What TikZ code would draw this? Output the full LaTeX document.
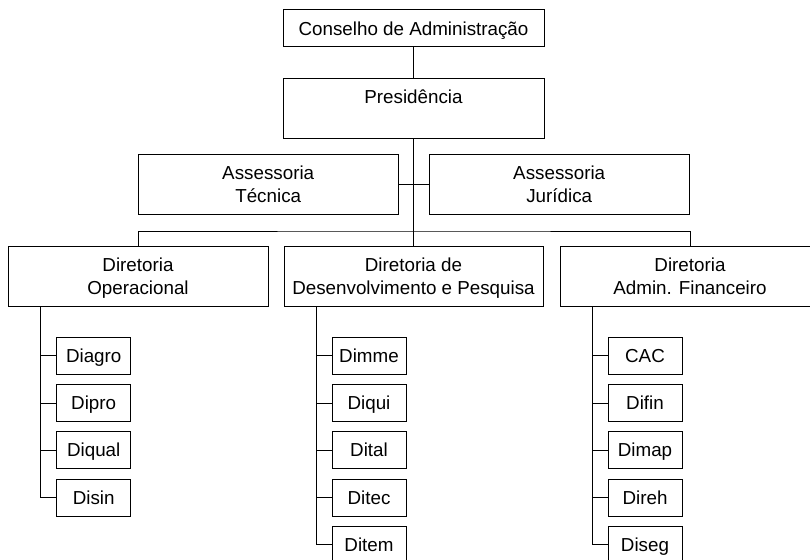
\documentclass[tikz,border=0pt]{standalone}
\usepackage{fontspec}
\setmainfont{Liberation Sans}
\newcommand\lnstrut{\rule[-4.5pt]{0pt}{22.5pt}}
\begin{document}
\begin{tikzpicture}[x=1pt,y=-1pt,
  box/.style={draw=black, line width=0.9pt, rectangle, inner sep=0pt, align=center,
              font=\fontsize{18.8}{22.5}\selectfont, text=black},
  bigbox/.style={box, minimum width=260pt, minimum height=60pt},
  small/.style={box, minimum width=74pt, minimum height=37pt},
  link/.style={draw=black, line width=0.9pt}]
\useasboundingbox (0,0) rectangle (810,559);
\clip (0,0) rectangle (810,559);
\fill[white] (0,0) rectangle (810,559);

% top levels
\node[box, minimum width=261pt, minimum height=36.5pt] (cons) at (413.5,27.75) {\lnstrut\raisebox{-1.5pt}{Conselho de Administração}};
\node[box, minimum width=261pt, minimum height=60pt] (pres) at (413.5,108) {\lnstrut Presidência\\\lnstrut};
\node[bigbox, minimum width=259.5pt] (tec) at (268.2,184) {\lnstrut Assessoria\\\lnstrut Técnica};
\node[bigbox, minimum width=259.5pt] (jur) at (559.2,184) {\lnstrut Assessoria\\\lnstrut Jurídica};

% directorates
\node[bigbox] (dop) at (138,276) {\lnstrut Diretoria\\\lnstrut Operacional};
\node[bigbox, minimum width=259pt] (ddp) at (413.5,276) {\lnstrut Diretoria de\\\lnstrut Desenvolvimento e Pesquisa};
\node[bigbox] (daf) at (690,276) {\lnstrut Diretoria\\\lnstrut Admin. Financeiro};

\coordinate (hub) at (413.5,231);

% Operacional children
\node[small] (diagro) at (93.7,355.8) {\lnstrut Diagro};
\node[small] (dipro)  at (93.7,403) {\lnstrut Dipro};
\node[small] (diqual) at (93.7,450.2) {\lnstrut Diqual};
\node[small] (disin)  at (93.7,497.5) {\lnstrut Disin};

% D&P children
\node[small] (dimme) at (369,355.8) {\lnstrut Dimme};
\node[small] (diqui) at (369,403) {\lnstrut Diqui};
\node[small] (dital) at (369,450.2) {\lnstrut Dital};
\node[small] (ditec) at (369,497.5) {\lnstrut Ditec};
\node[small] (ditem) at (369,544.7) {\lnstrut Ditem};

% Admin children
\node[small] (cac)   at (645,355.8) {\lnstrut CAC};
\node[small] (difin) at (645,403) {\lnstrut Difin};
\node[small] (dimap) at (645,450.2) {\lnstrut Dimap};
\node[small] (direh) at (645,497.5) {\lnstrut Direh};
\node[small] (diseg) at (645,544.7) {\lnstrut Diseg};

\coordinate (opl) at (40.7,306);
\coordinate (dpl) at (316,306);
\coordinate (afl) at (592.3,306);

% connectors
\draw[link] (cons.south) -- (pres.north);
\draw[link] (pres.south) -- (hub) -- (ddp.north);
\draw[link] (tec.east) -- (jur.west);
\draw[link] (dop.north) |- (hub) -| (daf.north);

\foreach \c in {diagro,dipro,diqual,disin}{\draw[link] (opl) |- (\c.west);}
\foreach \c in {dimme,diqui,dital,ditec,ditem}{\draw[link] (dpl) |- (\c.west);}
\foreach \c in {cac,difin,dimap,direh,diseg}{\draw[link] (afl) |- (\c.west);}
\end{tikzpicture}
\end{document}
